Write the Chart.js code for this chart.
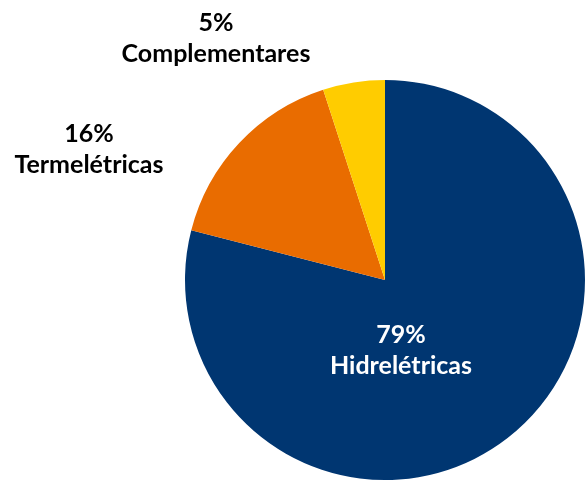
<!DOCTYPE html>
<html>
<head>
<meta charset="utf-8">
<script src="https://cdn.jsdelivr.net/npm/chart.js@4"></script>
<style>
html,body{margin:0;padding:0;background:#fff;}
#wrap{width:588px;height:483px;}
</style>
</head>
<body>
<div id="wrap"><canvas id="c" width="588" height="483"></canvas></div>
<script>
const categories = ["Hidrelétricas", "Termelétricas", "Complementares"];
const shares = [79, 16, 5];
const sliceColors = ["#003671", "#E96C00", "#FFCC00"];
const labelColors = ["#FFFFFF", "#000000", "#000000"];
// label anchor offsets relative to pie centre, in units of the radius
const labelOffsets = [[0.08, 0.315], [-1.48, -0.69], [-0.845, -1.245]];

const labelPlugin = {
  id: 'sliceLabels',
  afterDatasetsDraw(chart) {
    const ctx = chart.ctx;
    const meta = chart.getDatasetMeta(0);
    ctx.save();
    ctx.font = 'bold 25px Lato';
    ctx.textAlign = 'center';
    ctx.textBaseline = 'alphabetic';
    meta.data.forEach((arc, i) => {
      const r = arc.outerRadius;
      const x = arc.x + labelOffsets[i][0] * r;
      const y = arc.y + labelOffsets[i][1] * r;
      ctx.fillStyle = labelColors[i];
      ctx.fillText(shares[i] + '%', x, y);
      ctx.fillText(categories[i], x, y + 31);
    });
    ctx.restore();
  }
};

new Chart(document.getElementById('c'), {
  type: 'pie',
  data: {
    labels: categories,
    datasets: [{
      data: shares,
      backgroundColor: sliceColors,
      borderWidth: 0
    }]
  },
  options: {
    responsive: false,
    animation: false,
    layout: { padding: { left: 185, right: 3, top: 80, bottom: 3 } },
    plugins: { legend: { display: false }, tooltip: { enabled: false } }
  },
  plugins: [labelPlugin]
});
</script>
</body>
</html>
